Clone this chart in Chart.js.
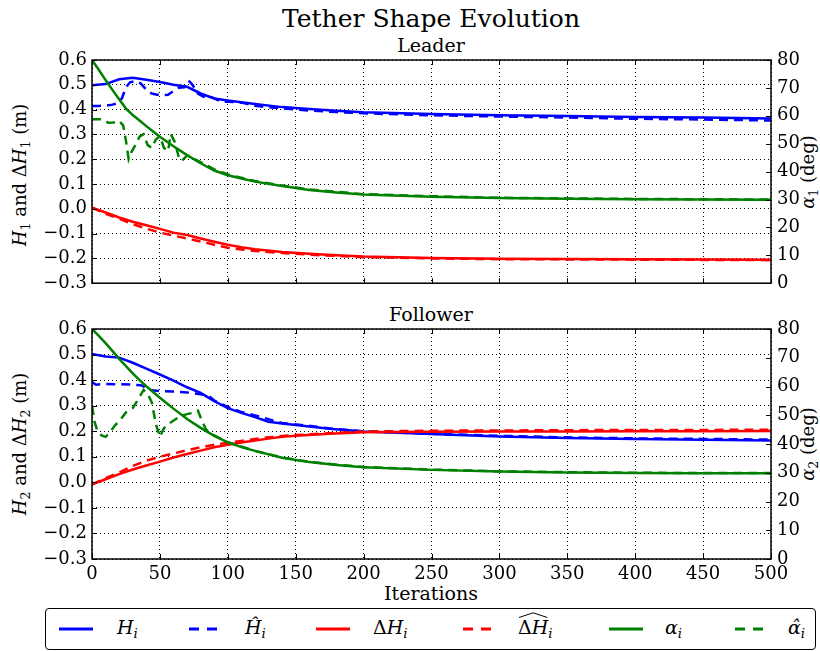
<!DOCTYPE html>
<html>
<head>
<meta charset="utf-8">
<script src="https://cdn.jsdelivr.net/npm/chart.js@4.4.0/dist/chart.umd.min.js"></script>
<style>
  html, body { margin: 0; padding: 0; background: #fff; }
  body { width: 820px; height: 651px; position: relative; overflow: hidden; font-family: "DejaVu Serif", serif; color: #000; }
  canvas { position: absolute; left: 0; }
  .txt { position: absolute; line-height: 1; white-space: nowrap; transform: translateX(-50%); }
  .vert { position: absolute; line-height: 1; white-space: nowrap; font-size: 18px; transform: translate(-50%, -50%) rotate(-90deg); }
  sub { font-size: 0.7em; vertical-align: -0.3em; line-height: 0; }
  #legend { position: absolute; left: 45px; top: 608px; width: 771px; height: 42px; border: 1.5px solid #000; border-radius: 4px; box-sizing: border-box; }
  .handle { position: absolute; top: 627px; }
  .ltxt { position: absolute; top: 618px; font-size: 19px; line-height: 1; white-space: nowrap; }
  .wide { position: relative; display: inline-block; }
  .wide svg { position: absolute; left: 0; top: -6px; width: 100%; height: 6px; }
</style>
</head>
<body>
<div class="txt" style="left:431px; top:6px; font-size:25px;">Tether Shape Evolution</div>
<div class="txt" style="left:431px; top:36px; font-size:19px;">Leader</div>
<div class="txt" style="left:431px; top:305px; font-size:19px;">Follower</div>
<div class="txt" style="left:431px; top:584px; font-size:19px;">Iterations</div>

<div class="vert" style="left:20px; top:175px;"><i>H</i><sub>1</sub> and Δ<i>H</i><sub>1</sub> (m)</div>
<div class="vert" style="left:20px; top:444px;"><i>H</i><sub>2</sub> and Δ<i>H</i><sub>2</sub> (m)</div>
<div class="vert" style="left:808px; top:172px;"><i>α</i><sub>1</sub> (deg)</div>
<div class="vert" style="left:808px; top:444px;"><i>α</i><sub>2</sub> (deg)</div>

<canvas id="leader" width="820" height="260" style="top:40px; width:820px; height:260px;"></canvas>
<canvas id="follower" width="820" height="280" style="top:310px; width:820px; height:280px;"></canvas>

<div id="legend"></div>
<svg class="handle" style="left:59px" width="34" height="4"><line x1="0" y1="2" x2="34" y2="2" stroke="#0000ff" stroke-width="3"/></svg>
<div class="ltxt" style="left:117px"><i>H</i><sub><i>i</i></sub></div>
<svg class="handle" style="left:189px" width="28" height="4"><line x1="0" y1="2" x2="28" y2="2" stroke="#0000ff" stroke-width="3" stroke-dasharray="10 8"/></svg>
<div class="ltxt" style="left:245px"><i>Ĥ</i><sub><i>i</i></sub></div>
<svg class="handle" style="left:316px" width="34" height="4"><line x1="0" y1="2" x2="34" y2="2" stroke="#ff0000" stroke-width="3"/></svg>
<div class="ltxt" style="left:373px">Δ<i>H</i><sub><i>i</i></sub></div>
<svg class="handle" style="left:463px" width="28" height="4"><line x1="0" y1="2" x2="28" y2="2" stroke="#ff0000" stroke-width="3" stroke-dasharray="10 8"/></svg>
<div class="ltxt" style="left:518px"><span class="wide">Δ<i>H</i><svg viewBox="0 0 30 6" preserveAspectRatio="none"><polyline points="1,5.5 15,0.8 29,5.5" fill="none" stroke="#000" stroke-width="1" vector-effect="non-scaling-stroke"/></svg></span><sub><i>i</i></sub></div>
<svg class="handle" style="left:609px" width="34" height="4"><line x1="0" y1="2" x2="34" y2="2" stroke="#008000" stroke-width="3"/></svg>
<div class="ltxt" style="left:665px"><i>α</i><sub><i>i</i></sub></div>
<svg class="handle" style="left:735px" width="28" height="4"><line x1="0" y1="2" x2="28" y2="2" stroke="#008000" stroke-width="3" stroke-dasharray="10 8"/></svg>
<div class="ltxt" style="left:788px"><i>α̂</i><sub><i>i</i></sub></div>

<script>
// Leader (top panel)
const leaderIter = [0, 10, 20, 30, 40, 50, 60, 70, 80, 90, 100, 110, 120, 140, 160, 180, 200, 250, 300, 350, 400, 450, 500];
const leaderH = [0.498, 0.503, 0.522, 0.528, 0.520, 0.511, 0.500, 0.492, 0.465, 0.445, 0.437, 0.430, 0.423, 0.410, 0.402, 0.395, 0.389, 0.382, 0.377, 0.374, 0.370, 0.368, 0.364];
const leaderDH = [0.005, -0.015, -0.035, -0.052, -0.066, -0.081, -0.096, -0.106, -0.120, -0.133, -0.145, -0.155, -0.163, -0.174, -0.181, -0.187, -0.192, -0.198, -0.201, -0.202, -0.203, -0.204, -0.205];
const leaderDHHat = [0.005, -0.020, -0.040, -0.062, -0.080, -0.096, -0.108, -0.120, -0.132, -0.145, -0.157, -0.164, -0.170, -0.178, -0.185, -0.190, -0.195, -0.200, -0.203, -0.204, -0.205, -0.206, -0.207];

const leaderHHatIter = [0, 5, 10, 15, 18, 22, 25, 28, 32, 36, 40, 44, 48, 52, 56, 60, 64, 68, 71, 74, 78, 82, 86, 90, 95, 100, 110, 120, 140, 160, 180, 200, 250, 300, 350, 400, 450, 500];
const leaderHHat = [0.415, 0.415, 0.416, 0.420, 0.424, 0.445, 0.490, 0.510, 0.515, 0.505, 0.480, 0.465, 0.460, 0.458, 0.460, 0.475, 0.488, 0.490, 0.518, 0.500, 0.465, 0.452, 0.455, 0.445, 0.432, 0.432, 0.428, 0.415, 0.405, 0.396, 0.390, 0.385, 0.377, 0.372, 0.368, 0.363, 0.360, 0.356];

const leaderAlphaIter = [0, 5, 10, 15, 20, 25, 30, 35, 40, 45, 50, 60, 70, 80, 90, 100, 110, 120, 140, 160, 180, 200, 250, 300, 350, 400, 450, 500];
const leaderAlpha = [80, 76.5, 72.8, 69.3, 65.9, 62.6, 60.3, 58.3, 56.3, 54.4, 52.5, 49.1, 45.9, 43.0, 40.4, 38.7, 37.5, 36.4, 34.8, 33.4, 32.5, 31.8, 31.0, 30.5, 30.3, 30.1, 30.0, 29.9];

const leaderAlphaHatIter = [0, 5, 8, 12, 16, 20, 23, 25, 27, 29, 32, 35, 38, 41, 44, 47, 50, 53, 56, 58, 61, 64, 66, 70, 80, 90, 100, 120, 140, 160, 200, 250, 300, 350, 400, 450, 500];
const leaderAlphaHat = [58.8, 58.8, 58.7, 57.5, 57.6, 58.2, 56.5, 51.0, 44.5, 47.0, 49.5, 52.5, 53.4, 49.5, 48.5, 51.5, 52.7, 48.5, 47.3, 53.5, 50.5, 45.0, 43.8, 45.8, 43.4, 40.8, 39.0, 36.6, 35.0, 33.6, 31.9, 31.2, 30.6, 30.4, 30.2, 30.1, 30.0];

// Follower (bottom panel)
const followerIter = [0, 10, 20, 30, 40, 50, 60, 70, 80, 90, 100, 110, 120, 130, 140, 150, 175, 200, 250, 300, 350, 400, 450, 500];
const followerH = [0.502, 0.492, 0.488, 0.468, 0.445, 0.422, 0.398, 0.372, 0.350, 0.318, 0.290, 0.272, 0.255, 0.237, 0.230, 0.224, 0.210, 0.199, 0.189, 0.179, 0.173, 0.170, 0.167, 0.164];
const followerDH = [-0.008, 0.012, 0.032, 0.050, 0.066, 0.081, 0.097, 0.111, 0.124, 0.137, 0.147, 0.156, 0.164, 0.171, 0.178, 0.182, 0.190, 0.196, 0.198, 0.199, 0.199, 0.200, 0.200, 0.201];
const followerDHHat = [-0.008, 0.016, 0.038, 0.064, 0.085, 0.100, 0.113, 0.126, 0.137, 0.147, 0.155, 0.162, 0.170, 0.176, 0.181, 0.185, 0.192, 0.199, 0.202, 0.203, 0.204, 0.205, 0.205, 0.206];

const followerHHatIter = [0, 3, 6, 10, 20, 30, 36, 40, 44, 50, 60, 70, 80, 86, 90, 100, 110, 120, 140, 160, 180, 200, 250, 300, 350, 400, 450, 500];
const followerHHat = [0.392, 0.382, 0.384, 0.385, 0.384, 0.382, 0.380, 0.370, 0.360, 0.357, 0.355, 0.352, 0.345, 0.338, 0.320, 0.295, 0.275, 0.262, 0.232, 0.221, 0.208, 0.200, 0.190, 0.182, 0.176, 0.172, 0.170, 0.167];

const followerAlphaIter = [0, 5, 10, 15, 20, 25, 30, 35, 40, 45, 50, 55, 60, 70, 80, 90, 100, 110, 120, 140, 160, 180, 200, 250, 300, 350, 400, 450, 500];
const followerAlpha = [80, 77.6, 75.1, 72.4, 69.6, 67.1, 64.6, 62.2, 60.1, 58.1, 56.1, 54.2, 52.3, 48.7, 45.6, 42.8, 40.6, 38.9, 37.6, 35.2, 33.7, 32.7, 31.9, 31.0, 30.4, 30.1, 29.9, 29.8, 29.8];

const followerAlphaHatIter = [0, 2, 4, 7, 10, 13, 17, 21, 25, 30, 34, 38, 41, 44, 47, 50, 53, 57, 62, 66, 70, 74, 78, 81, 84, 90, 100, 120, 140, 160, 180, 200, 250, 300, 350, 400, 450, 500];
const followerAlphaHat = [53.2, 47.5, 44.5, 43.0, 42.5, 44.0, 46.5, 48.5, 51.0, 52.5, 55.5, 58.8, 57.5, 54.5, 47.0, 42.5, 45.5, 47.2, 48.8, 49.8, 50.4, 50.8, 51.6, 48.0, 45.0, 43.0, 40.6, 37.6, 35.3, 33.8, 32.8, 32.0, 31.1, 30.5, 30.2, 30.0, 29.9, 29.9];

const BLUE = '#0000ff', RED = '#ff0000', GREEN = '#008000';
const tickFont = { family: 'DejaVu Serif', size: 18 };

function pts(xs, ys) {
  return xs.map((x, i) => ({ x: x, y: ys[i] }));
}

function line(label, xs, ys, color, dashed, axis, order) {
  return {
    label: label,
    data: pts(xs, ys),
    borderColor: color,
    backgroundColor: color,
    borderWidth: 2.5,
    borderDash: dashed ? [9, 6] : [],
    pointRadius: 0,
    tension: 0,
    fill: false,
    yAxisID: axis,
    order: order
  };
}

// black frame plus matplotlib style inward ticks on every side
const frame = {
  id: 'frame',
  afterDraw(chart) {
    const { ctx, chartArea: a, scales } = chart;
    const len = 5;
    ctx.save();
    ctx.strokeStyle = '#000';
    ctx.lineWidth = 1;
    ctx.setLineDash([]);
    ctx.beginPath();
    scales.x.ticks.forEach(t => {
      const px = Math.round(scales.x.getPixelForValue(t.value)) + 0.5;
      ctx.moveTo(px, a.bottom); ctx.lineTo(px, a.bottom - len);
      ctx.moveTo(px, a.top); ctx.lineTo(px, a.top + len);
    });
    scales.y.ticks.forEach(t => {
      const py = Math.round(scales.y.getPixelForValue(t.value)) + 0.5;
      ctx.moveTo(a.left, py); ctx.lineTo(a.left + len, py);
    });
    scales.yr.ticks.forEach(t => {
      const py = Math.round(scales.yr.getPixelForValue(t.value)) + 0.5;
      ctx.moveTo(a.right, py); ctx.lineTo(a.right - len, py);
    });
    ctx.stroke();
    ctx.lineWidth = 1.5;
    ctx.strokeRect(a.left, a.top, a.right - a.left, a.bottom - a.top);
    ctx.restore();
  }
};

function fmt(v) {
  const s = Math.abs(v) < 1e-9 ? '0.0' : v.toFixed(1);
  return s.replace('-', '\u2212');
}

function makeChart(id, sets, showX, padTop) {
  return new Chart(document.getElementById(id), {
    type: 'line',
    data: { datasets: sets },
    options: {
      responsive: false,
      animation: false,
      events: [],
      layout: { padding: { top: padTop, left: 0, right: 0, bottom: 0 } },
      plugins: { legend: { display: false }, tooltip: { enabled: false } },
      scales: {
        x: {
          type: 'linear', min: 0, max: 500,
          ticks: { stepSize: 50, display: showX, autoSkip: false, maxRotation: 0, font: tickFont, color: '#000', padding: 5 },
          grid: { color: '#000', lineWidth: 1, drawTicks: false },
          border: { display: false, dash: [1, 3] },
          afterFit: s => { s.height = showX ? 31 : 10; }
        },
        y: {
          position: 'left', min: -0.3, max: 0.6,
          ticks: { stepSize: 0.1, font: tickFont, color: '#000', padding: 5, callback: fmt },
          grid: { color: '#000', lineWidth: 1, drawTicks: false },
          border: { display: false, dash: [1, 3] },
          afterFit: s => { s.width = 92; }
        },
        yr: {
          position: 'right', min: 0, max: 80,
          ticks: { stepSize: 10, font: tickFont, color: '#000', padding: 6 },
          grid: { display: false, drawTicks: false },
          border: { display: false },
          afterFit: s => { s.width = 49; }
        }
      }
    },
    plugins: [frame]
  });
}

makeChart('leader', [
  line('H', leaderIter, leaderH, BLUE, false, 'y', 6),
  line('H hat', leaderHHatIter, leaderHHat, BLUE, true, 'y', 5),
  line('dH', leaderIter, leaderDH, RED, false, 'y', 4),
  line('dH hat', leaderIter, leaderDHHat, RED, true, 'y', 3),
  line('alpha', leaderAlphaIter, leaderAlpha, GREEN, false, 'yr', 2),
  line('alpha hat', leaderAlphaHatIter, leaderAlphaHat, GREEN, true, 'yr', 1)
], false, 20);

makeChart('follower', [
  line('H', followerIter, followerH, BLUE, false, 'y', 6),
  line('H hat', followerHHatIter, followerHHat, BLUE, true, 'y', 5),
  line('dH', followerIter, followerDH, RED, false, 'y', 4),
  line('dH hat', followerIter, followerDHHat, RED, true, 'y', 3),
  line('alpha', followerAlphaIter, followerAlpha, GREEN, false, 'yr', 2),
  line('alpha hat', followerAlphaHatIter, followerAlphaHat, GREEN, true, 'yr', 1)
], true, 19);
</script>
</body>
</html>
